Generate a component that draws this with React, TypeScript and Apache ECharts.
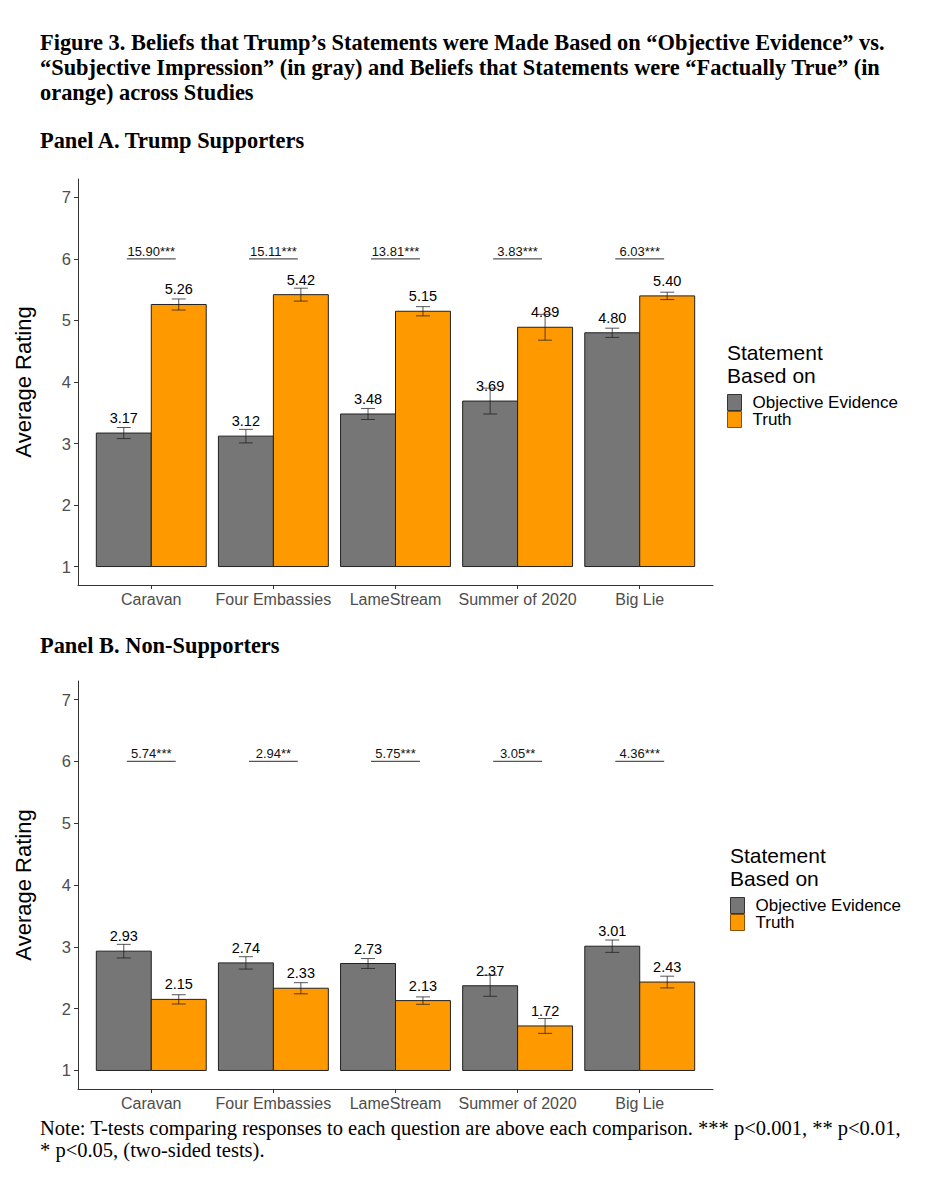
import React, { useEffect, useRef } from "react";
import * as echarts from "echarts";

const categories = ["Caravan", "Four Embassies", "LameStream", "Summer of 2020", "Big Lie"];
const seriesNames = ["Objective Evidence", "Truth"];

// Panel A: Trump supporters
const supObjective = [3.17, 3.12, 3.48, 3.69, 4.8];
const supObjectiveErr = [0.09, 0.11, 0.09, 0.21, 0.075];
const supTruth = [5.26, 5.42, 5.15, 4.89, 5.4];
const supTruthErr = [0.09, 0.105, 0.075, 0.21, 0.06];
const supTTests = ["15.90***", "15.11***", "13.81***", "3.83***", "6.03***"];

// Panel B: non-supporters
const nonObjective = [2.93, 2.74, 2.73, 2.37, 3.01];
const nonObjectiveErr = [0.11, 0.1, 0.08, 0.17, 0.1];
const nonTruth = [2.15, 2.33, 2.13, 1.72, 2.43];
const nonTruthErr = [0.075, 0.09, 0.06, 0.12, 0.095];
const nonTTests = ["5.74***", "2.94**", "5.75***", "3.05**", "4.36***"];

const yTicks = [1, 2, 3, 4, 5, 6, 7];
const xTicks = [1, 2, 3, 4, 5];

const GRAY = "#767676";
const ORANGE = "#FF9900";
const SANS = "'Liberation Sans', Arial, sans-serif";
const SERIF = "'Liberation Serif', 'Times New Roman', serif";

function barRenderer(side: number, fill: string) {
  return (params: any, api: any) => {
    const x = api.value(0);
    const v = api.value(1);
    const e = api.value(2);
    const cx = x + side * 0.225;
    const p0 = api.coord([cx - 0.225, v]);
    const p1 = api.coord([cx + 0.225, 1]);
    const top = api.coord([cx, v + e]);
    const bot = api.coord([cx, v - e]);
    const mid = api.coord([cx, v]);
    const cap = 7;
    const errStyle = { stroke: "rgba(30,30,30,0.75)", lineWidth: 1 };
    return {
      type: "group",
      children: [
        {
          type: "rect",
          shape: { x: p0[0], y: p0[1], width: p1[0] - p0[0], height: p1[1] - p0[1] },
          style: { fill, stroke: "#222", lineWidth: 1 },
        },
        {
          type: "text",
          style: {
            text: v.toFixed(2),
            x: mid[0],
            y: mid[1] - 15,
            align: "center",
            verticalAlign: "middle",
            font: `14.5px ${SANS}`,
            fill: "#000",
          },
        },
        { type: "line", shape: { x1: top[0], y1: top[1], x2: bot[0], y2: bot[1] }, style: errStyle },
        { type: "line", shape: { x1: top[0] - cap, y1: top[1], x2: top[0] + cap, y2: top[1] }, style: errStyle },
        { type: "line", shape: { x1: bot[0] - cap, y1: bot[1], x2: bot[0] + cap, y2: bot[1] }, style: errStyle },
      ],
    };
  };
}

function tTestRenderer(label: string, api: any) {
  const x = api.value(0);
  const y = api.value(1);
  const l = api.coord([x - 0.2, y]);
  const r = api.coord([x + 0.2, y]);
  return {
    type: "group",
    children: [
      { type: "line", shape: { x1: l[0], y1: l[1], x2: r[0], y2: r[1] }, style: { stroke: "#555", lineWidth: 1.2 } },
      {
        type: "text",
        style: {
          text: label,
          x: (l[0] + r[0]) / 2,
          y: l[1] - 1,
          align: "center",
          verticalAlign: "bottom",
          font: `13px ${SANS}`,
          fill: "#111",
        },
      },
    ],
  };
}

function makeAxes(gridIndex: number) {
  const xAxis = {
    type: "value",
    gridIndex,
    min: 0.4,
    max: 5.6,
    splitLine: { show: false },
    axisLine: { show: true, lineStyle: { color: "#333", width: 1 } },
    axisTick: { show: true, customValues: xTicks, length: 4, lineStyle: { color: "#333" } },
    axisLabel: {
      customValues: xTicks,
      formatter: (v: number) => categories[Math.round(v) - 1] ?? "",
      fontSize: 16,
      color: "#4D4D4D",
      fontFamily: SANS,
      margin: 6,
    },
  };
  const yAxis = {
    type: "value",
    gridIndex,
    min: 0.7,
    max: 7.3,
    name: "Average Rating",
    nameLocation: "middle",
    nameGap: 44,
    nameTextStyle: { fontSize: 22, color: "#000", fontFamily: SANS },
    splitLine: { show: false },
    axisLine: { show: true, lineStyle: { color: "#333", width: 1 } },
    axisTick: { show: true, customValues: yTicks, length: 4, lineStyle: { color: "#333" } },
    axisLabel: {
      customValues: yTicks,
      fontSize: 16.5,
      color: "#4D4D4D",
      fontFamily: SANS,
      margin: 7,
    },
  };
  return { xAxis, yAxis };
}

function barData(values: number[], errs: number[]) {
  return values.map((v, i) => [i + 1, v, errs[i]]);
}

function tData(labels: string[]) {
  return labels.map((_, i) => [i + 1, 6]);
}

export default function App() {
  const ref = useRef<HTMLDivElement>(null);

  useEffect(() => {
    if (!ref.current) return;
    const chart = echarts.init(ref.current, undefined, { renderer: "svg" });
    const a = makeAxes(0);
    const b = makeAxes(1);

    const titleText = (text: string, x: number, y: number, font: string) => ({
      type: "text",
      x,
      y,
      style: { text, font, fill: "#000", verticalAlign: "middle", align: "left" },
    });

    const legendBase = (left: number, top: number) => ({
      orient: "vertical",
      left,
      top,
      itemWidth: 14,
      itemHeight: 16,
      itemGap: 0,
      padding: 0,
      selectedMode: false,
      textStyle: { fontSize: 17, color: "#000", fontFamily: SANS, padding: [0, 0, 0, 6] },
      data: [
        { name: seriesNames[0], icon: "rect", itemStyle: { color: GRAY, borderColor: "#333", borderWidth: 1 } },
        { name: seriesNames[1], icon: "rect", itemStyle: { color: ORANGE, borderColor: "#8a5200", borderWidth: 1 } },
      ],
    });

    const bold = `bold 22.4px ${SERIF}`;
    const note = `20.5px ${SERIF}`;

    chart.setOption({
      animation: false,
      backgroundColor: "#fff",
      grid: [
        { left: 78, top: 179, width: 635, height: 406 },
        { left: 78, top: 681, width: 635, height: 408 },
      ],
      xAxis: [a.xAxis, b.xAxis],
      yAxis: [a.yAxis, b.yAxis],
      legend: [legendBase(727, 394), legendBase(730, 897)],
      series: [
        {
          type: "custom",
          name: seriesNames[0],
          xAxisIndex: 0,
          yAxisIndex: 0,
          itemStyle: { color: GRAY },
          renderItem: barRenderer(-1, GRAY),
          data: barData(supObjective, supObjectiveErr),
        },
        {
          type: "custom",
          name: seriesNames[1],
          xAxisIndex: 0,
          yAxisIndex: 0,
          itemStyle: { color: ORANGE },
          renderItem: barRenderer(1, ORANGE),
          data: barData(supTruth, supTruthErr),
        },
        {
          type: "custom",
          name: "tA",
          xAxisIndex: 0,
          yAxisIndex: 0,
          renderItem: (p: any, api: any) => tTestRenderer(supTTests[p.dataIndex], api),
          data: tData(supTTests),
        },
        {
          type: "custom",
          name: seriesNames[0],
          xAxisIndex: 1,
          yAxisIndex: 1,
          itemStyle: { color: GRAY },
          renderItem: barRenderer(-1, GRAY),
          data: barData(nonObjective, nonObjectiveErr),
        },
        {
          type: "custom",
          name: seriesNames[1],
          xAxisIndex: 1,
          yAxisIndex: 1,
          itemStyle: { color: ORANGE },
          renderItem: barRenderer(1, ORANGE),
          data: barData(nonTruth, nonTruthErr),
        },
        {
          type: "custom",
          name: "tB",
          xAxisIndex: 1,
          yAxisIndex: 1,
          renderItem: (p: any, api: any) => tTestRenderer(nonTTests[p.dataIndex], api),
          data: tData(nonTTests),
        },
      ],
      graphic: [
        titleText("Figure 3. Beliefs that Trump’s Statements were Made Based on “Objective Evidence” vs.", 40, 42, bold),
        titleText("“Subjective Impression” (in gray) and Beliefs that Statements were “Factually True” (in", 40, 67, bold),
        titleText("orange) across Studies", 40, 92, bold),
        titleText("Panel A. Trump Supporters", 40, 140, bold),
        titleText("Panel B. Non-Supporters", 40, 645, bold),
        titleText("Statement", 727, 352, `21px ${SANS}`),
        titleText("Based on", 727, 375, `21px ${SANS}`),
        titleText("Statement", 730, 855, `21px ${SANS}`),
        titleText("Based on", 730, 878, `21px ${SANS}`),
        titleText("Note: T-tests comparing responses to each question are above each comparison. *** p<0.001, ** p<0.01,", 40, 1128, note),
        titleText("* p<0.05, (two-sided tests).", 40, 1150, note),
      ],
    });
    return () => chart.dispose();
  }, []);

  return (
    <div
      ref={ref}
      style={{ position: "absolute", left: 0, top: 0, width: 927, height: 1200, background: "#fff" }}
    />
  );
}
